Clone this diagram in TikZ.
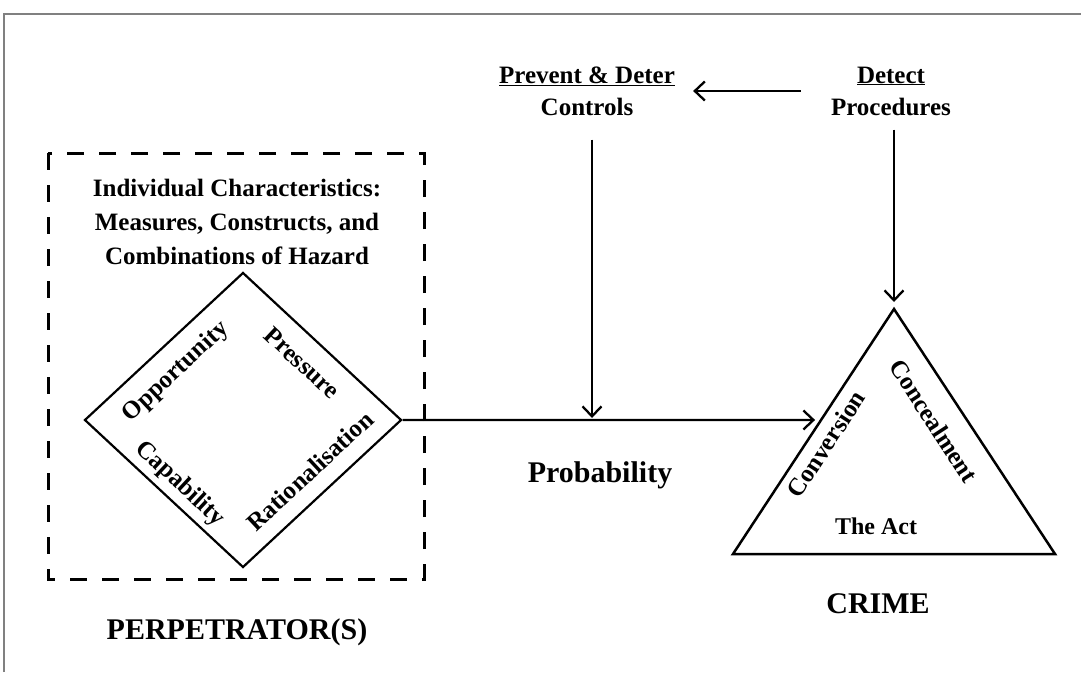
\documentclass[tikz,border=0pt]{standalone}
\usepackage{fontspec}
\setmainfont{Liberation Serif}
\usetikzlibrary{arrows.meta,positioning,shapes.geometric,calc}

\begin{document}
\begin{tikzpicture}[x=1pt,y=-1pt,node distance=304pt,
    every node/.style={font=\bfseries\fontsize{25}{32}\selectfont, align=center, inner sep=0pt},
    arr/.style={-{Straight Barb[length=10pt,width=19pt,line width=2.3pt]}, line width=2.2pt},
    sidetext/.style={font=\bfseries\fontsize{25}{28}\selectfont},
    bigtext/.style={font=\bfseries\fontsize{30}{32}\selectfont}]
  \useasboundingbox (0,0) rectangle (1081,672);
  \draw[gray, line width=1.5pt] (4,672) -- (4,14) -- (1081,14);

  % controls on top
  \node (prevent) at (587,91) {\underline{Prevent \& Deter}\\Controls};
  \node (detect) [right=of prevent.center, anchor=center] {\underline{Detect}\\Procedures};

  % perpetrator
  \draw[dash pattern=on 17pt off 15pt, line width=3pt] (48,153) rectangle (424,579);
  \node[font=\bfseries\fontsize{25}{34}\selectfont] (chars) at (237,222)
    {Individual Characteristics:\\Measures, Constructs, and\\Combinations of Hazard};
  \node[diamond, draw, line width=2.2pt, minimum width=317pt, minimum height=295pt] (hazard) at (243,420) {};
  \node[sidetext, rotate=43] (opp) at (176,372) {Opportunity};
  \node[sidetext, rotate=-43] (pres) at (302,363) {Pressure};
  \node[sidetext, rotate=-43] (cap) at (180,484) {Capability};
  \node[sidetext, rotate=43] (rat) at (310,471) {Rationalisation};
  \node[bigtext] (perp) at (237,632) {PERPETRATOR(S)};

  % crime
  \coordinate (apex) at (894,309);
  \coordinate (bl) at (733,554);
  \coordinate (br) at (1055,554);
  \draw[line width=2.5pt] (apex) -- (br) -- (bl) -- cycle;
  \coordinate (hit) at ($(apex)!0.453!(bl)$);
  \node[sidetext, rotate=57] (conv) at (826,444) {Conversion};
  \node[sidetext, rotate=-57] (conc) at (934,421) {Concealment};
  \node[sidetext, font=\bfseries\fontsize{24}{28}\selectfont] (act) at (876,526) {The Act};
  \node[bigtext] (crime) at (878,604) {CRIME};

  \node[bigtext] (prob) at (600,475) {Probability};

  % connectors
  \coordinate (meet) at (592,420);
  \draw[arr, shorten >=1pt] (hazard.east) -- ([xshift=-5pt]hit);
  \draw[arr, shorten <=24pt, shorten >=2pt] (prevent.south -| meet) -- (meet);
  \draw[arr, shorten <=14pt, shorten >=7pt] (detect.south -| apex) -- (apex);
  \draw[arr, shorten <=30pt, shorten >=18pt] (detect.west) -- (prevent.east);
\end{tikzpicture}
\end{document}
